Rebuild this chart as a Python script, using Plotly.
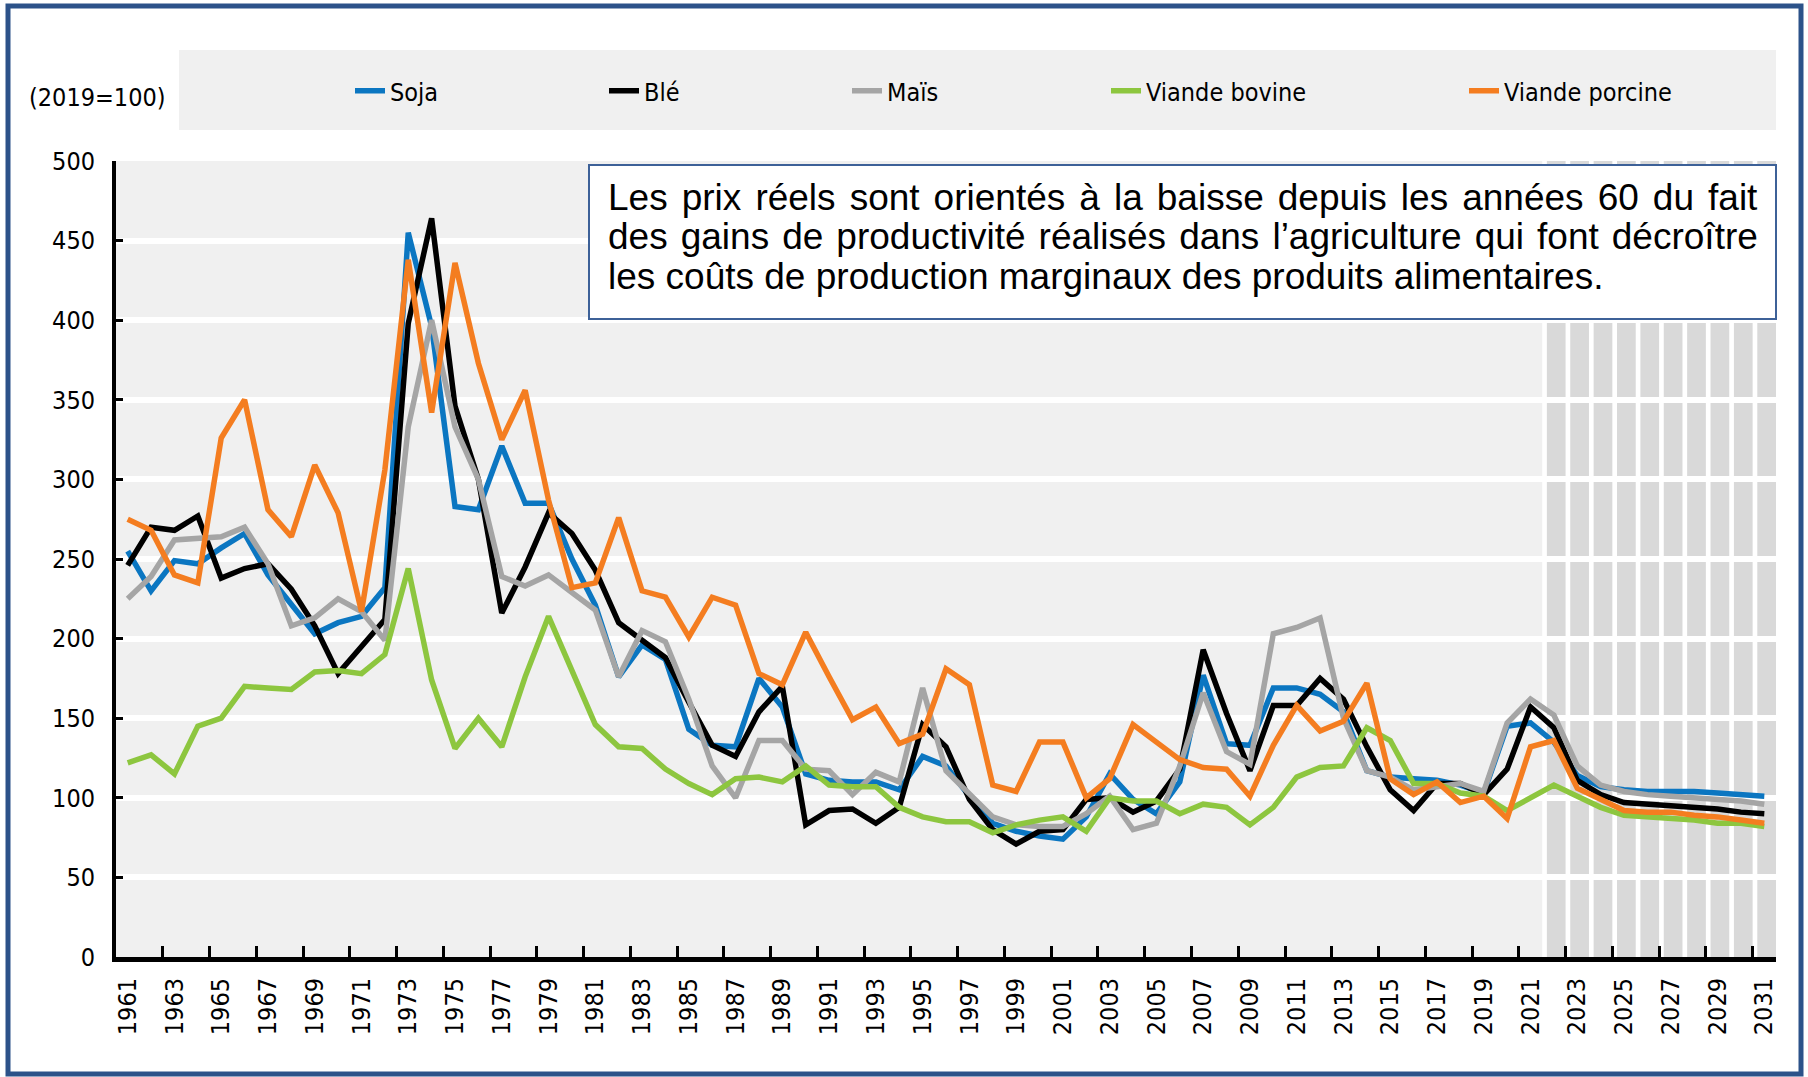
import plotly.graph_objects as go

# ---------------- data ----------------
years = list(range(1961, 2032))
proj_years = list(range(2022, 2032))
tick_years = years[::2]

soja = [255, 230, 249, 247, 257, 266, 240, 222, 203, 210,
        214, 232, 455, 396, 283, 281, 321, 285, 285, 250,
        221, 176, 196, 187, 143, 133, 132, 175, 157, 115,
        111, 110, 110, 105, 126, 120, 101, 84, 79, 76,
        74, 88, 115, 99, 90, 110, 177, 134, 133, 169,
        169, 165, 154, 117, 113, 112, 111, 108, 103, 145,
        147, 135, 114, 107, 105, 104, 104, 104, 103, 102, 101]
ble = [246, 270, 268, 277, 238, 244, 247, 231, 208, 178,
       195, 212, 398, 464, 346, 300, 216, 245, 279, 266,
       243, 210, 199, 188, 160, 133, 126, 154, 170, 83,
       92, 93, 84, 94, 146, 132, 99, 80, 71, 79,
       80, 99, 100, 91, 98, 118, 193, 153, 117, 158,
       158, 175, 162, 132, 105, 92, 109, 109, 102, 118,
       157, 144, 111, 102, 97, 96, 95, 94, 93, 91, 90]
mais = [225, 239, 262, 263, 264, 270, 247, 208, 213, 225,
        217, 199, 333, 400, 333, 300, 239, 233, 240, 229,
        218, 176, 205, 198, 162, 120, 100, 136, 136, 118,
        117, 102, 116, 110, 169, 117, 103, 88, 83, 82,
        82, 90, 101, 80, 84, 120, 166, 129, 121, 203,
        207, 213, 150, 117, 113, 105, 107, 109, 104, 147,
        162, 152, 120, 108, 104, 102, 101, 100, 99, 98, 96]
bovine = [122, 127, 115, 145, 150, 170, 169, 168, 179, 180,
          178, 190, 244, 174, 131, 150, 132, 176, 214, 179,
          146, 132, 131, 118, 109, 102, 112, 113, 110, 120,
          108, 107, 107, 94, 88, 85, 85, 78, 83, 86,
          88, 79, 100, 98, 98, 90, 96, 94, 83, 94,
          113, 119, 120, 144, 136, 109, 109, 103, 101, 92,
          100, 108, 101, 94, 89, 88, 87, 86, 84, 84, 82]
porcine = [275, 268, 240, 235, 326, 350, 281, 264, 309, 279,
           217, 306, 438, 342, 436, 373, 325, 356, 287, 232,
           235, 276, 230, 226, 201, 226, 221, 178, 171, 204,
           176, 149, 157, 134, 140, 181, 171, 108, 104, 135,
           135, 100, 112, 146, 135, 124, 119, 118, 101, 133,
           158, 142, 148, 172, 112, 102, 110, 97, 101, 87,
           132, 136, 106, 99, 92, 91, 91, 89, 88, 86, 84]

series_names = ["Soja", "Blé", "Maïs", "Viande bovine", "Viande porcine"]
series_values = [soja, ble, mais, bovine, porcine]
series_colors = ["#0b76c1", "#000000", "#a5a5a5", "#8dc63f", "#f47d20"]

unit_label = "(2019=100)"
note_lines = [
    "Les prix réels sont orientés à la baisse depuis les années 60 du fait",
    "des gains de productivité réalisés dans l’agriculture qui font décroître",
    "les coûts de production marginaux des produits alimentaires.",
]

# ---------------- layout helpers ----------------
W, H = 1808, 1077
L, R, T, B = 116, 32, 161, 120
PW, PH = W - L - R, H - T - B


def pxx(x):
    return (x - L) / PW


def pxy(y):
    return (H - B - y) / PH


def justify(line, extra_size):
    """Widen every word gap slightly (small non-breaking space) to mimic justified text."""
    if not extra_size:
        return line
    pad = '<span style="font-size:%.1fpx">\u00a0</span>' % extra_size
    return (" " + pad).join(line.split(" "))


NARROW = "DejaVu Sans Condensed, Liberation Sans Narrow, Arial Narrow, sans-serif"
ARIAL = "Liberation Sans, Arial, sans-serif"
FRAME = "#2c5289"
FS = 25

fig = go.Figure()

legend_ids = ["legend", "legend2", "legend3", "legend4", "legend5"]
legend_text_x = [390, 644, 887, 1146, 1504]

for name, vals, col, lid in zip(series_names, series_values, series_colors, legend_ids):
    fig.add_trace(go.Scatter(
        x=years, y=vals, name=name, mode="lines",
        line=dict(color=col, width=5.5),
        legend=lid,
    ))

shapes = []
# projection shading
shapes.append(dict(type="rect", xref="x", yref="y", layer="below",
                   x0=proj_years[0] - 0.5, x1=proj_years[-1] + 0.5, y0=0, y1=500,
                   fillcolor="white", line=dict(width=0)))
for yr in proj_years:
    shapes.append(dict(type="rect", xref="x", yref="y", layer="below",
                       x0=yr - 0.3, x1=yr + 0.5, y0=0, y1=500,
                       fillcolor="#d9d9d9", line=dict(width=0)))
# legend background
shapes.append(dict(type="rect", xref="paper", yref="paper", layer="below",
                   x0=pxx(179), x1=pxx(1776), y0=pxy(130), y1=pxy(50),
                   fillcolor="#f0f0f0", line=dict(width=0)))
# note box
shapes.append(dict(type="rect", xref="paper", yref="paper", layer="above",
                   x0=pxx(589), x1=pxx(1776), y0=pxy(319), y1=pxy(165),
                   fillcolor="white", line=dict(color="#3d6198", width=2)))
# outer frame
shapes.append(dict(type="rect", xref="paper", yref="paper", layer="above",
                   x0=pxx(8), x1=pxx(1801), y0=pxy(1074), y1=pxy(6),
                   fillcolor="rgba(0,0,0,0)", line=dict(color=FRAME, width=5)))

annotations = [dict(text=unit_label, xref="paper", yref="paper",
                    x=pxx(97), y=pxy(97), xanchor="center", yanchor="middle",
                    showarrow=False, font=dict(family=NARROW, size=FS, color="black"))]
note_text = [justify(note_lines[0], 13.5),
             justify(note_lines[1], 9.9),
             note_lines[2]]
line_centers = [198, 237, 276]
for txt, yc in zip(note_text, line_centers):
    annotations.append(dict(text=txt, xref="paper", yref="paper",
                            x=pxx(606), y=pxy(yc), xanchor="left", yanchor="middle",
                            showarrow=False, align="left",
                            font=dict(family=ARIAL, size=37, color="black")))

layout_legends = {}
for lid, tx in zip(legend_ids, legend_text_x):
    layout_legends[lid] = dict(
        x=pxx(tx - 40), y=pxy(91), xanchor="left", yanchor="middle",
        orientation="h", bgcolor="rgba(0,0,0,0)", borderwidth=0,
        font=dict(family=NARROW, size=FS, color="black"),
    )

fig.update_layout(
    width=W, height=H, autosize=False,
    margin=dict(l=L, r=R, t=T, b=B, pad=0),
    paper_bgcolor="white", plot_bgcolor="#f0f0f0",
    showlegend=True,
    shapes=shapes, annotations=annotations,
    **layout_legends,
)

fig.update_xaxes(
    range=[years[0] - 0.5, years[-1] + 0.5],
    tickmode="array", tickvals=tick_years, ticktext=[str(y) for y in tick_years],
    tickangle=-90, ticks="", showgrid=False, zeroline=False,
    showline=True, linecolor="black", linewidth=5,
    tickfont=dict(family=NARROW, size=FS, color="black"),
    ticklabelstandoff=6,
    minor=dict(tickmode="array", tickvals=[y + 1.5 for y in tick_years[:-1]],
               ticks="inside", ticklen=11, tickwidth=2.5, tickcolor="black",
               showgrid=False),
)
fig.update_yaxes(
    range=[0, 500], tickmode="linear", tick0=0, dtick=50,
    showgrid=True, gridcolor="white", gridwidth=6, zeroline=False,
    showline=True, linecolor="black", linewidth=4,
    ticks="inside", ticklen=7, tickwidth=3, tickcolor="black",
    tickfont=dict(family=NARROW, size=FS, color="black"),
    ticklabelstandoff=12,
)

fig.write_html("out.html", config={"displayModeBar": False},
               post_script="document.body.style.margin='0px';")
